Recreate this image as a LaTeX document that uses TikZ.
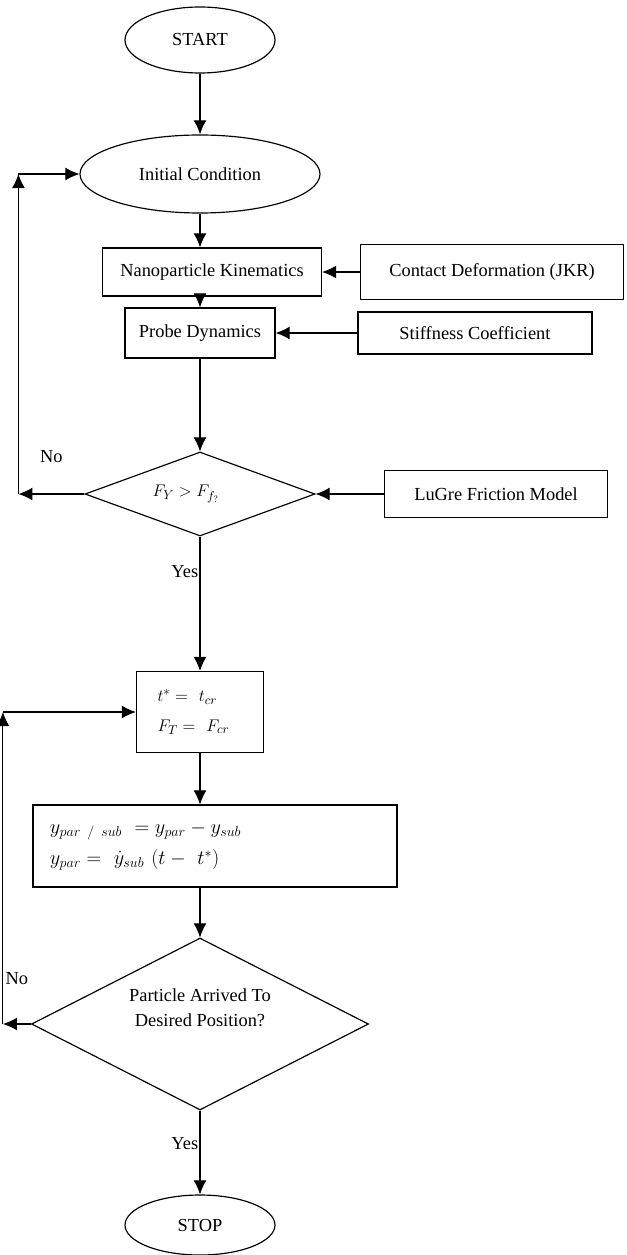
\documentclass[tikz,border=0pt]{standalone}
\usepackage{fontspec}
\setmainfont{Liberation Serif}
\usepackage{amsmath}
\usepackage{tikz}
\usetikzlibrary{shapes.geometric}
\usetikzlibrary{positioning}
\usetikzlibrary{calc}
\usetikzlibrary{arrows.meta}
\tikzset{every picture/.style={line width=1pt},every node/.style={font=\fontsize{15.7}{19}\selectfont},>={Latex[length=12pt,width=11pt]}}
\begin{document}
\begin{tikzpicture}
\useasboundingbox (-6,1.2) rectangle (12.78,-36.45);
\node (start) [draw, ellipse, minimum width=4.5cm, minimum height=1.98cm] {START};
\node (init) [below of=start, draw, ellipse, minimum width=7.2cm, minimum height=2.34cm, node distance=4.02cm] {Initial Condition};
\node (kin) [below of=init, draw, minimum width=6.57cm, minimum height=1.44cm, node distance=2.94cm, xshift=0.36cm] {Nanoparticle Kinematics};
\node (probe) [below of=kin, draw, minimum width=4.5cm, minimum height=1.5cm, node distance=1.83cm, xshift=-0.36cm] {Probe Dynamics};
\node (check) [below of=probe, draw, diamond, aspect=2.74, minimum width=6.9cm, minimum height=2.52cm, inner sep=0pt, node distance=4.83cm] {$F_Y > F_{f_{?}}$\rule{0.84cm}{0pt}};
\node (jkr) [right of=kin, draw, minimum width=7.89cm, minimum height=1.65cm, node distance=8.4cm] {Contact Deformation (JKR)};
\node (stiff) [right of=probe, draw, minimum width=7.02cm, minimum height=1.26cm, node distance=8.25cm] {Stiffness Coefficient};
\node (lugre) [right of=check, draw, minimum width=6.69cm, minimum height=1.41cm, node distance=8.88cm] {LuGre Friction Model};
\node (crit) [below of=check, draw, text width=2.55cm, inner xsep=0.63cm, minimum height=2.43cm, align=left, node distance=6.54cm] {$t^{*} =\ t_{cr}$\\[6pt]$F_T =\ F_{cr}$};
\node (slide) [below of=crit, draw, text width=9.9cm, inner xsep=0.51cm, minimum height=2.46cm, align=left, node distance=4.02cm, xshift=0.45cm, font=\fontsize{18}{21}\selectfont] {$y_{par\ /\ sub}\ = y_{par} - y_{sub}$\\[6pt]$y_{par} =\ \dot{y}_{sub}\ (t -\ t^{*})$};
\node (arrive) [below of=slide, draw, diamond, aspect=1.96, minimum width=10.11cm, minimum height=5.16cm, inner sep=0pt, align=center, text depth=0.98cm, node distance=5.34cm, xshift=-0.45cm] {Particle Arrived To\\[3pt]Desired Position?};
\node (stop) [below of=arrive, draw, ellipse, minimum width=4.5cm, minimum height=1.8cm, node distance=6.03cm] {STOP};
\coordinate (no1) at ($(check.west)+(-1.98,0)$);
\coordinate (no1up) at (no1 |- init.west);
\coordinate (no2) at ($(arrive.west)+(-0.84,0)$);
\coordinate (no2up) at (no2 |- crit.west);
\draw [->] (start) -- (init);
\draw [->] (init) -- (init |- kin.north);
\draw [->] (kin.south -| probe.north) -- (probe.north);
\draw [->] (probe) -- (check);
\draw [->] (jkr) -- (kin);
\draw [->] (stiff) -- (probe);
\draw [->] (lugre) -- (check);
\draw [->] (check) -- node [pos=0.26, left, inner sep=1pt] {Yes} (crit);
\draw [->] (crit) -- (crit |- slide.north);
\draw [->] (slide.south -| arrive.north) -- (arrive.north);
\draw [->] (arrive) -- node [pos=0.39, left, inner sep=1pt] {Yes} (stop);
\draw [->] (check.west) -- node [midway, yshift=1.11cm] {No} (no1);
\draw [->] (no1) -- (no1up);
\draw [->] (no1up) -- (init.west);
\draw [->] (arrive.west) -- node [midway, yshift=1.35cm] {No} (no2);
\draw [->] (no2) -- (no2up);
\draw [->] (no2up) -- (crit.west);
\end{tikzpicture}
\end{document}
